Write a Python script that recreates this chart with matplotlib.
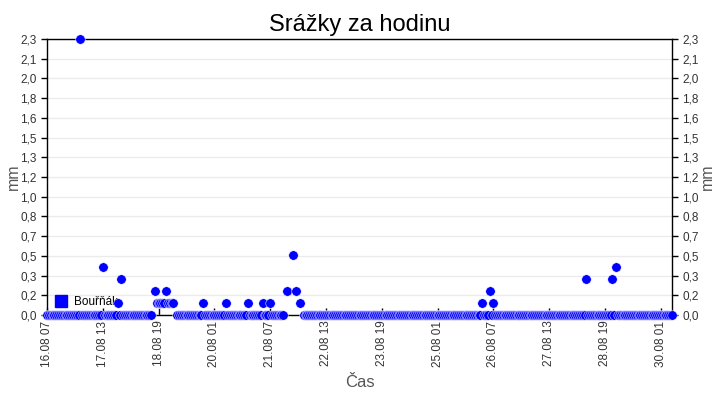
import numpy as np
import matplotlib
matplotlib.use("Agg")
import matplotlib.pyplot as plt
from matplotlib.lines import Line2D

# hodinove srazky 16.08 07:00 - 30.08 07:00 (nenulove hodiny, jinak 0 mm)
pocet_hodin = 337
rain_hours = [18, 30, 38, 40, 58, 59, 60, 61, 62, 63, 64, 65, 66, 67, 68,
              84, 96, 108, 116, 120, 129, 132, 134, 136,
              234, 238, 240, 290, 304, 306]
rain_mm = [2.3, 0.4, 0.1, 0.3, 0.2, 0.1, 0.1, 0.1, 0.1, 0.1, 0.2, 0.1, 0.1, 0.1, 0.1,
           0.1, 0.1, 0.1, 0.1, 0.1, 0.2, 0.5, 0.2, 0.1,
           0.1, 0.2, 0.1, 0.3, 0.3, 0.4]
missing_hours = [57, 69, 128, 130, 131, 133, 135, 137]

x_ticks = [0, 30, 60, 90, 120, 150, 180, 210, 240, 270, 300, 330]
x_labels = ["16.08 07", "17.08 13", "18.08 19", "20.08 01", "21.08 07", "22.08 13",
            "23.08 19", "25.08 01", "26.08 07", "27.08 13", "28.08 19", "30.08 01"]
y_labels = ["0,0", "0,2", "0,3", "0,5", "0,7", "0,8", "1,0", "1,2",
            "1,3", "1,5", "1,6", "1,8", "2,0", "2,1", "2,3"]

hodiny = np.arange(pocet_hodin)
srazky = np.zeros(pocet_hodin)
srazky[rain_hours] = rain_mm
srazky[missing_hours] = np.nan

modra = "#0000ff"
seda = "#555555"
plt.rcParams["font.family"] = ["Liberation Sans", "DejaVu Sans"]

fig = plt.figure(figsize=(7.2, 4.0), dpi=100)
ax = fig.add_axes([47 / 720, 1 - 315 / 400, 625 / 720, 276 / 400])

ax.plot(hodiny, srazky, linestyle="none", marker="o", markersize=6.8,
        markerfacecolor=modra, markeredgecolor="white", markeredgewidth=0.35,
        zorder=4, clip_on=False)

ax.set_xlim(0, 336)
ax.set_ylim(0, 2.3)
y_ticks = np.linspace(0, 2.3, 15)
ax.set_yticks(y_ticks)
ax.set_yticklabels(y_labels)
ax.set_xticks(x_ticks)
ax.set_xticklabels(x_labels, rotation=90)
ax.grid(axis="y", color="#ebebeb", linewidth=1, zorder=0)
ax.set_axisbelow(True)

ax.tick_params(axis="y", which="both", direction="out", length=4, width=1,
               labelsize=8.5, labelcolor="#333333", right=True, labelright=True)
ax.tick_params(axis="x", direction="in", length=5, width=1,
               labelsize=8.5, labelcolor="#333333", pad=4)

for s in ax.spines.values():
    s.set_color("black")
    s.set_linewidth(1)

ax.set_title("Srážky za hodinu", fontsize=17, pad=6)
ax.set_xlabel("Čas", fontsize=12, color=seda, labelpad=6)
fig.text(13 / 720, 1 - 177 / 400, "mm", rotation=90, fontsize=11.5, color=seda,
         ha="center", va="center")
fig.text(707 / 720, 1 - 177 / 400, "mm", rotation=90, fontsize=11.5, color=seda,
         ha="center", va="center")

handle = Line2D([], [], linestyle="none", marker="s", markersize=8,
                markerfacecolor=modra, markeredgecolor=modra)
leg = ax.legend([handle], ["Bouřňák"], loc="lower left", bbox_to_anchor=(0.0, -0.005),
                frameon=False, fontsize=8.5, handlelength=1, handletextpad=0.6,
                borderaxespad=0.3)
leg.set_zorder(1)

fig.savefig("out.png", dpi=100)
